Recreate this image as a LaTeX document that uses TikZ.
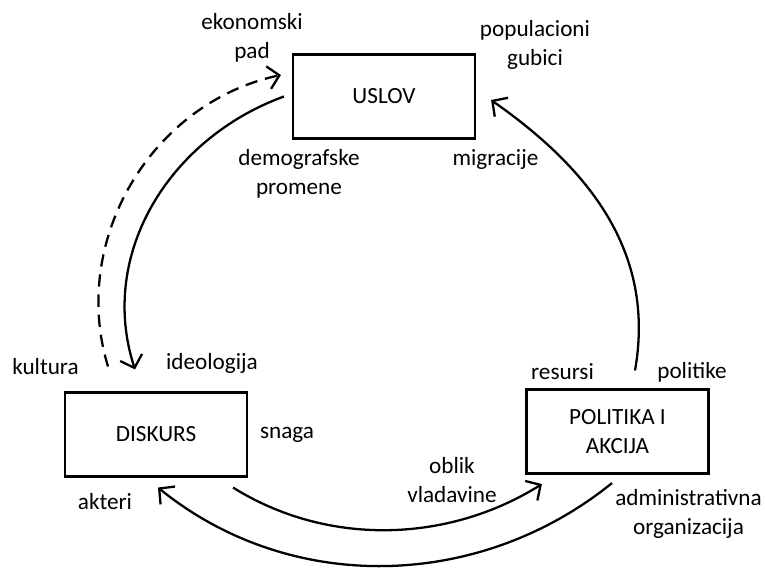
\documentclass[tikz,border=0pt]{standalone}
\usepackage{fontspec}
\setmainfont{Carlito}
\usepackage{tikz}
\usetikzlibrary{arrows.meta, positioning, calc}

\begin{document}
\begin{tikzpicture}[
        box/.style={draw, line width=1.2pt, minimum width=3.64cm, minimum height=1.68cm, align=center},
        lbl/.style={align=center, inner sep=0pt},
        flow/.style={line width=1.3pt, -{Straight Barb[length=2.2mm, width=4.6mm]}},
        font=\fontsize{13.2}{16.5}\selectfont]
                \useasboundingbox (0,0) rectangle (15.3,11.36);

                \node[box] (uslov) at (7.68,9.43) {USLOV};
                \node[box] (diskurs) at (3.12,2.67) {DISKURS};
                \node[box] (politika) at (12.35,2.73) {POLITIKA I\\AKCIJA};

                \node[lbl] (ekon) at (5.04,10.60) {ekonomski\\pad};
                \node[lbl] (popul) at (10.70,10.46) {populacioni\\gubici};
                \node[lbl] (demo) at (5.98,7.88) {demografske\\promene};
                \node[lbl] (migr) at (9.91,8.16) {migracije};
                \node[lbl] (kult) at (0.91,4.02) {kultura};
                \node[lbl] (ideo) at (4.24,4.10) {ideologija};
                \node[lbl] (snaga) at (5.74,2.66) {snaga};
                \node[lbl] (akteri) at (2.10,1.32) {akteri};
                \node[lbl] (resursi) at (11.25,3.92) {resursi};
                \node[lbl] (politike) at (13.84,3.92) {politike};
                \node[lbl] (oblik) at (9.04,1.76) {oblik\\vladavine};
                \node[lbl] (admin) at (13.77,1.08) {administrativna\\organizacija};

                \draw[flow, dash pattern=on 7pt off 4.5pt] ([shift={(-0.96,0.5)}]diskurs.north) to[out=107, in=192] ([shift={(-0.22,0.43)}]uslov.west);
                \draw[flow] ([xshift=-0.16cm]uslov.west) to[out=200, in=108] ([shift={(-0.42,0.44)}]diskurs.north);
                \draw[flow] ([shift={(0.35,0.36)}]politika.north) to[out=80, in=325] ([shift={(0.30,-0.07)}]uslov.east);
                \draw[flow] ([shift={(-0.30,-0.20)}]diskurs.south east) to[out=-32, in=212, looseness=0.92] ([shift={(0.33,-0.19)}]politika.south west);
                \draw[flow] ([shift={(-0.11,-0.17)}]politika.south) to[out=219, in=321, looseness=0.96] ([shift={(0.04,-0.20)}]diskurs.south);
            \end{tikzpicture}
\end{document}
